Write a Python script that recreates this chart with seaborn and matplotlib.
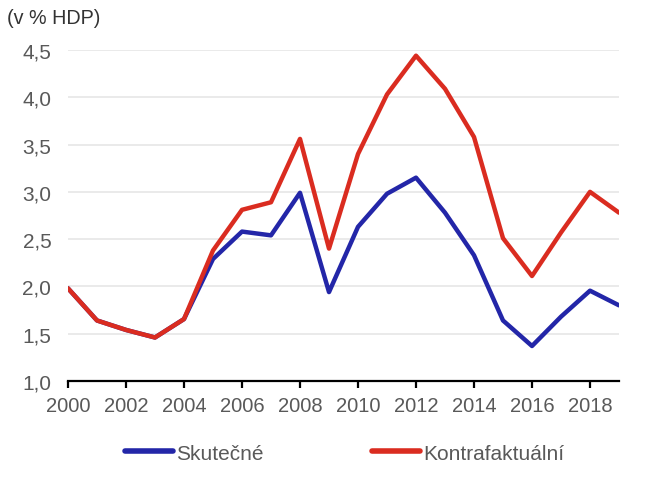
import matplotlib
matplotlib.use("Agg")
import matplotlib.pyplot as plt
import seaborn as sns
import pandas as pd
from matplotlib.ticker import FuncFormatter

years = list(range(2000, 2020))
skutecne = [1.98, 1.64, 1.54, 1.46, 1.655, 2.29, 2.58, 2.54, 2.99, 1.94,
            2.63, 2.98, 3.15, 2.78, 2.33, 1.64, 1.37, 1.68, 1.955, 1.80]
kontrafaktualni = [1.98, 1.64, 1.54, 1.46, 1.655, 2.38, 2.81, 2.89, 3.56, 2.40,
                   3.40, 4.03, 4.44, 4.09, 3.58, 2.51, 2.11, 2.57, 3.00, 2.78]
series_names = ["Skutečné", "Kontrafaktuální"]
colors = ["#2326A8", "#DA2C20"]
y_ticks = [1.0, 1.5, 2.0, 2.5, 3.0, 3.5, 4.0, 4.5]
x_ticks = list(range(2000, 2019, 2))

df = pd.DataFrame({
    "rok": years * 2,
    "hodnota": skutecne + kontrafaktualni,
    "serie": [series_names[0]] * len(years) + [series_names[1]] * len(years),
})

sns.set_theme(style="white")
plt.rcParams["font.family"] = ["Liberation Sans", "DejaVu Sans"]

fig = plt.figure(figsize=(6.7, 4.89), dpi=100)
ax = fig.add_axes([68 / 670, 1 - 382 / 489, (619 - 68) / 670, (382 - 51) / 489])

sns.lineplot(data=df, x="rok", y="hodnota", hue="serie", hue_order=series_names,
             palette=colors, linewidth=3.2, ax=ax, legend=True)

ax.set_xlim(2000, 2019)
ax.set_ylim(1.0, 4.5)
ax.set_yticks(y_ticks)
ax.set_xticks(x_ticks)
ax.yaxis.set_major_formatter(FuncFormatter(lambda v, p: f"{v:.1f}".replace(".", ",")))
ax.set_xlabel("")
ax.set_ylabel("")

ax.grid(axis="y", color="#E6E6E6", linewidth=1.2)
ax.set_axisbelow(True)
for s in ["top", "right", "left"]:
    ax.spines[s].set_visible(False)
ax.spines["bottom"].set_color("black")
ax.spines["bottom"].set_linewidth(1.6)

ax.tick_params(axis="y", length=0, pad=12, labelsize=15, labelcolor="#595959")
ax.tick_params(axis="x", bottom=True, direction="out", length=5, width=1.6,
               color="black", pad=6, labelsize=14.5, labelcolor="#595959")

fig.text(7 / 670, 1 - 18 / 489, "(v % HDP)", fontsize=14.2, color="#333333",
         ha="left", va="center")

leg = fig.legend(*ax.get_legend_handles_labels(), loc="center left",
                 bbox_to_anchor=(125 / 670, 1 - 454 / 489), ncol=2, frameon=False,
                 fontsize=15, handlelength=2.3, handletextpad=0.15,
                 columnspacing=5.2, borderpad=0, borderaxespad=0)
ax.get_legend().remove()
for t in leg.get_texts():
    t.set_color("#595959")
for l in leg.get_lines():
    l.set_linewidth(4)
    l.set_solid_capstyle("round")

fig.savefig("out.png", dpi=100)
